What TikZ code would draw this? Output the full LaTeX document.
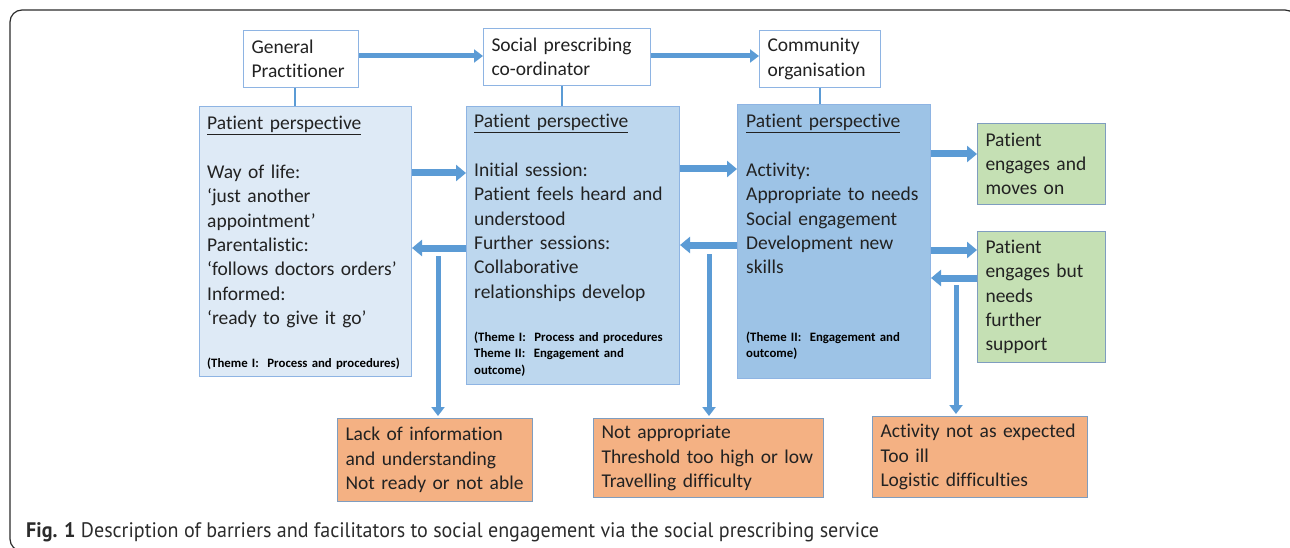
\documentclass[tikz,border=0pt]{standalone}
\usepackage{fontspec}
\setmainfont{Carlito}[Ligatures=NoCommon]
\newfontfamily\capfont{PT Sans}[FakeStretch=0.955]
\usetikzlibrary{arrows.meta}
\definecolor{arrowblue}{HTML}{5B9BD5}
\definecolor{edgeblue}{HTML}{8EB4E3}
\definecolor{edgegray}{HTML}{7F9DBF}
\definecolor{ppa}{HTML}{DEEAF6}
\definecolor{ppb}{HTML}{BDD7EE}
\definecolor{ppc}{HTML}{9DC3E6}
\definecolor{greenfill}{HTML}{C5E0B4}
\definecolor{orangefill}{HTML}{F4B183}
\definecolor{txtc}{HTML}{222222}
\definecolor{framec}{HTML}{2B2B2B}
\begin{document}
\begin{tikzpicture}[x=1pt,y=-1pt,
  bodyfont/.style={font=\fontsize{19.5}{24.3}\selectfont},
  tbox/.style={draw=#1, line width=1pt, anchor=north west, inner xsep=8pt, inner ysep=0pt, align=left, text=txtc, bodyfont},
  ppbox/.style={draw=edgeblue, line width=1pt, anchor=north west, inner sep=0pt, fill=#1},
  pptext/.style={anchor=base west, inner sep=0pt, align=left, text width=260pt, text=txtc, bodyfont},
  theme/.style={anchor=base west, inner sep=0pt, align=left, text width=260pt, text=black, font=\fontsize{12.8}{16.5}\selectfont\bfseries},
  arrA/.style={draw=arrowblue, line width=5pt, -{Triangle[width=13pt,length=9pt]}},
  arrB/.style={draw=arrowblue, line width=7pt, -{Triangle[width=16pt,length=10pt]}},
  arrD/.style={draw=arrowblue, line width=5pt, -{Triangle[width=13pt,length=9pt]}},
  link/.style={draw=arrowblue, line width=2.5pt}]
\useasboundingbox (0,0) rectangle (1290,548);
% outer frame
\draw[framec, line width=1.2pt, rounded corners=12pt] (10,551) -- (10,10) -- (1297,10) -- (1297,551) -- cycle;

% top boxes
\node[tbox=edgeblue, fill=white, text width=99pt, minimum height=57pt] (gp) at (243,30) {General\\Practitioner};
\node[tbox=edgeblue, fill=white, text width=151pt, minimum height=57pt] (spc) at (483,28) {Social prescribing\\co-ordinator};
\node[tbox=edgeblue, fill=white, text width=105pt, minimum height=57pt] (co) at (759,30) {Community\\organisation};

% patient perspective boxes
\node[ppbox=ppa, minimum width=212pt, minimum height=270pt] (pp1) at (199,106) {};
\node[ppbox=ppb, minimum width=213pt, minimum height=278pt] (pp2) at (466,106) {};
\node[ppbox=ppc, minimum width=193pt, minimum height=274pt] (pp3) at (737,104) {};

\node[pptext] (pp1t) at (207,130) {\underline{Patient perspective}\\[24.3pt]Way of life:\\‘just another\\appointment’\\Parentalistic:\\‘follows doctors orders’\\Informed:\\‘ready to give it go’};
\node[theme] (pp1th) at (207,367) {(Theme I:\ \ Process and procedures)};

\node[pptext] (pp2t) at (474,128) {\underline{Patient perspective}\\[24.3pt]Initial session:\\Patient feels heard and\\understood\\Further sessions:\\Collaborative\\relationships develop};
\node[theme] (pp2th) at (474,341) {(Theme I:\ \ Process and procedures\\Theme II:\ \ Engagement and\\outcome)};

\node[pptext] (pp3t) at (746,128) {\underline{Patient perspective}\\[24.3pt]Activity:\\Appropriate to needs\\Social engagement\\Development new\\skills};
\node[theme] (pp3th) at (746,341) {(Theme II:\ \ Engagement and\\outcome)};

% outcome boxes
\node[tbox=edgegray, fill=greenfill, text width=112pt, minimum height=81pt] (g1) at (977,123) {Patient\\engages and\\moves on};
\node[tbox=edgegray, fill=greenfill, text width=112pt, minimum height=131pt] (g2) at (977,231) {Patient\\engages but\\needs\\further\\support};

\node[tbox=edgegray, fill=orangefill, text width=179pt, minimum height=83pt] (o1) at (337,418) {Lack of information\\and understanding\\Not ready or not able};
\node[tbox=edgegray, fill=orangefill, text width=214pt, minimum height=79pt] (o2) at (593,418) {Not appropriate\\Threshold too high or low\\Travelling difficulty};
\node[tbox=edgegray, fill=orangefill, text width=199pt, minimum height=81pt] (o3) at (872,416) {Activity not as expected\\Too ill\\Logistic difficulties};

% top connectors
\draw[arrA] (gp.east |- 0,56) -- (spc.west |- 0,56);
\draw[arrA] (spc.east |- 0,56) -- (co.west |- 0,56);
\draw[link] (gp.south -| 295,0) -- (pp1.north -| 295,0);
\draw[link] (spc.south -| 562,0) -- (pp2.north -| 562,0);
\draw[link] (co.south -| 820,0) -- (pp3.north -| 820,0);

% forward / backward arrows
\draw[arrB] (pp1.east |- 0,173) -- (pp2.west |- 0,173);
\draw[arrB] (pp2.west |- 0,248) -- (pp1.east |- 0,248);
\draw[arrB] (pp2.east |- 0,169) -- (pp3.west |- 0,169);
\draw[arrB] (pp3.west |- 0,245) -- (pp2.east |- 0,245);
\draw[arrB] (pp3.east |- 0,154) -- (g1.west |- 0,154);
\draw[arrB] (pp3.east |- 0,250) -- (g2.west |- 0,250);
\draw[arrB] (g2.west |- 0,278) -- (pp3.east |- 0,278);

% down arrows to barriers
\coordinate (d1) at (438,256);
\coordinate (d2) at (709,254);
\coordinate (d3) at (956,285);
\draw[arrD] (d1) -- ([yshift=2pt]d1 |- o1.north);
\draw[arrD] (d2) -- ([yshift=2pt]d2 |- o2.north);
\draw[arrD] (d3) -- ([yshift=2pt]d3 |- o3.north);

% caption
\node[anchor=base west, inner sep=0pt, text=framec, font=\capfont\fontsize{21}{24}\selectfont] (cap) at (26,537) {\textbf{Fig. 1} Description of barriers and facilitators to social engagement via the social prescribing service};
\end{tikzpicture}
\end{document}
